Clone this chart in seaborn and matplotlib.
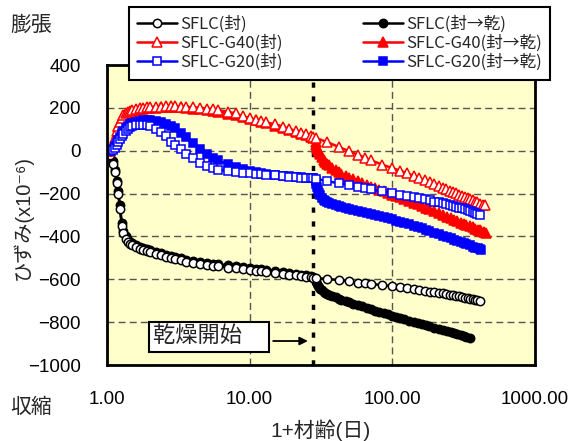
import numpy as np
import pandas as pd
import matplotlib
matplotlib.use('Agg')
import matplotlib.pyplot as plt
import seaborn as sns

# ages (days) -- x axis is 1 + age
age_early = [0, 0.05, 0.1, 0.14, 0.17, 0.2, 0.23, 0.27, 0.3, 0.35, 0.4, 0.45, 0.5,
             0.6, 0.7, 0.8, 0.9, 1.0, 1.2, 1.4, 1.6, 1.8, 2.0, 2.3, 2.6, 3.0, 3.5,
             4, 4.5, 5, 6, 7, 8, 9, 10, 11, 12, 14, 16, 18, 20, 22, 24, 26, 27]
age_sealed = [28, 34, 41, 49, 56, 63, 70, 84, 98, 112, 126, 140, 154, 168, 182,
              196, 210, 224, 238, 252, 266, 280, 294, 308, 322, 336, 350, 364,
              378, 392, 412, 430, 446]
age_dried = [28, 28.3, 28.7, 29, 29.5, 30, 31, 32, 33, 34, 35, 37, 39, 41, 43, 46,
             49, 52, 56, 60, 65, 70, 75, 80, 86, 92, 98, 105, 112, 120, 130, 140,
             150, 160, 170, 180, 195, 210, 225, 240, 255, 270, 285, 300, 315, 330,
             349, 365, 380, 395, 410, 420, 435, 456]

# strain (x10^-6), sealed curing period
sflc_seal_early = [0, -20, -60, -100, -150, -200, -270, -350, -385, -410, -425, -435, -442,
                   -450, -457, -463, -468, -473, -481, -488, -495, -501, -506, -512, -518,
                   -524, -529, -533, -537, -540, -545, -549, -553, -557, -560, -563, -566,
                   -571, -575, -579, -582, -585, -588, -590, -592]
sflc_dry_early = [0, -15, -50, -90, -140, -190, -255, -335, -375, -400, -415, -425, -432,
                  -440, -447, -453, -458, -463, -471, -478, -485, -491, -496, -502, -508,
                  -514, -519, -523, -527, -530, -535, -540, -544, -548, -551, -554, -557,
                  -562, -566, -570, -574, -578, -582, -586, -590]
g40_seal_early = [0, 2, 25, 60, 90, 115, 135, 155, 165, 175, 182, 187, 190, 195, 198, 200,
                  202, 203, 205, 206, 207, 207, 207, 206, 205, 203, 200, 197, 194, 190, 182,
                  174, 160, 152, 145, 138, 132, 124, 113, 102, 92, 84, 76, 69, 65]
g40_dry_early = [0, 0, 20, 55, 85, 110, 130, 150, 160, 170, 177, 182, 186, 190, 193, 196,
                 198, 199, 201, 202, 203, 203, 203, 202, 200, 197, 193, 189, 185, 181, 173,
                 165, 157, 149, 142, 135, 128, 117, 107, 97, 88, 80, 72, 64, 58]
g20_seal_early = [0, 0, 5, 15, 28, 42, 55, 70, 80, 93, 103, 110, 114, 118, 120, 120, 118,
                  114, 103, 88, 68, 42, 27, 8, -15, -35, -57, -73, -82, -88, -95, -99, -102,
                  -105, -107, -109, -111, -115, -118, -121, -123, -125, -127, -128, -129]
g20_dry_early = [0, 0, 8, 20, 35, 50, 65, 82, 93, 106, 116, 123, 128, 135, 139, 142, 143,
                 143, 140, 135, 127, 117, 104, 85, 62, 35, 8, -15, -32, -45, -63, -76, -86,
                 -94, -100, -104, -107, -112, -116, -119, -121, -123, -125, -126, -127]

# after day 28: sealed specimens
sflc_seal_late = [-595, -598, -604, -610, -615, -619, -622, -627, -632, -637, -642, -646,
                  -650, -654, -657, -660, -663, -666, -669, -672, -675, -677, -680, -683,
                  -685, -688, -690, -693, -695, -697, -701]
g40_seal_late = [60, 40, 18, -3, -18, -33, -45, -65, -80, -93, -105, -117, -128, -138,
                 -147, -156, -164, -172, -179, -186, -193, -199, -205, -211, -217, -222,
                 -227, -232, -237, -241, -247, -251, -255]
g20_seal_late = [-130, -142, -152, -160, -167, -174, -180, -190, -198, -205, -211, -217,
                 -222, -227, -232, -237, -241, -245, -249, -253, -257, -261, -265, -269,
                 -273, -277, -281, -285, -289, -293, -298]

# after day 28: drying specimens
sflc_dry_late = [-600, -612, -622, -630, -638, -645, -652, -658, -663, -667, -671, -678,
                 -684, -690, -695, -701, -707, -713, -720, -726, -733, -740, -746, -752,
                 -758, -764, -770, -776, -781, -787, -793, -799, -805, -810, -815, -819,
                 -825, -831, -837, -842, -847, -852, -857, -861, -865, -869, -874]
g40_dry_late = [40, 28, 15, 5, -5, -15, -30, -42, -52, -60, -68, -80, -90, -100, -108,
                -118, -127, -134, -142, -150, -159, -167, -174, -181, -189, -197, -205,
                -211, -218, -225, -234, -242, -250, -257, -265, -272, -283, -292, -300,
                -307, -314, -321, -328, -335, -341, -347, -353, -358, -363, -368, -372,
                -375, -379, -384]
g20_dry_late = [-140, -155, -170, -185, -198, -208, -220, -228, -234, -239, -243, -250,
                -255, -260, -264, -268, -272, -276, -281, -286, -292, -297, -301, -305,
                -310, -315, -320, -326, -331, -337, -343, -350, -356, -362, -368, -374,
                -382, -389, -396, -403, -409, -415, -421, -426, -431, -436, -442, -447,
                -452, -456, -460, -463]

drying_start = 28
x_ticks = [1, 10, 100, 1000]
x_ticklabels = ['1.00', '10.00', '100.00', '1000.00']
y_ticks = [-1000, -800, -600, -400, -200, 0, 200, 400]


def make_df(early, late_ages, late_vals):
    ages = age_early + late_ages[:len(late_vals)]
    return pd.DataFrame({'x': np.array(ages) + 1, 'y': early + late_vals})


# (label, data, color, marker, markersize, facecolor) in drawing order
series = [
    ('SFLC(封→乾)', make_df(sflc_dry_early, age_dried, sflc_dry_late), 'black', 'o', 6.0, 'black'),
    ('SFLC(封)', make_df(sflc_seal_early, age_sealed, sflc_seal_late), 'black', 'o', 6.0, 'white'),
    ('SFLC-G40(封→乾)', make_df(g40_dry_early, age_dried, g40_dry_late), '#FF0000', '^', 7.5, '#FF0000'),
    ('SFLC-G40(封)', make_df(g40_seal_early, age_sealed, g40_seal_late), '#FF0000', '^', 7.5, 'white'),
    ('SFLC-G20(封→乾)', make_df(g20_dry_early, age_dried, g20_dry_late), '#0000FF', 's', 6.0, '#0000FF'),
    ('SFLC-G20(封)', make_df(g20_seal_early, age_sealed, g20_seal_late), '#0000FF', 's', 6.0, 'white'),
]

sns.set_style('white')
plt.rcParams['font.family'] = ['Liberation Sans', 'Noto Sans CJK JP', 'DejaVu Sans']

fig = plt.figure(figsize=(5.68, 4.41), dpi=100)
ax = fig.add_axes([107 / 568, 76 / 441, 428 / 568, 300 / 441])
ax.set_facecolor('#FFFFCC')

for label, df, color, marker, ms, fc in series:
    sns.lineplot(data=df, x='x', y='y', ax=ax, color=color, marker=marker,
                 markersize=ms, markerfacecolor=fc, markeredgecolor=color,
                 markeredgewidth=1.1, linewidth=1.8, label=label,
                 sort=False, estimator=None, errorbar=None)

if ax.get_legend() is not None:
    ax.get_legend().remove()

ax.set_xscale('log')
ax.set_xlim(1, 1000)
ax.set_ylim(-1000, 400)
ax.set_xticks(x_ticks)
ax.set_xticklabels(x_ticklabels)
ax.set_yticks(y_ticks)
ax.set_yticklabels([str(v).replace('-', '\u2212') for v in y_ticks])

ax.grid(True, which='major', color='#555555', linestyle=(0, (5, 3)), linewidth=1)
ax.tick_params(axis='both', which='both', direction='in', pad=19,
               labelsize=13.5, colors='black', width=1.5)
ax.tick_params(axis='both', which='major', length=7)
ax.tick_params(axis='x', which='minor', length=5)
for sp in ax.spines.values():
    sp.set_color('black')
    sp.set_linewidth(2)

# start of drying
ax.axvline(drying_start, color='black', lw=2.5, linestyle=(0, (1.5, 2.5)), zorder=1.5)
ax.text(2.10, -869, '乾燥開始\u3000', fontsize=16, ha='left', va='center',
        bbox=dict(boxstyle='square,pad=0.2', fc='white', ec='black', lw=1.5))
ax.annotate('', xy=(25.6, -888), xytext=(14.6, -888),
            arrowprops=dict(arrowstyle='-|>', color='black', lw=1.3,
                            mutation_scale=12, shrinkA=0, shrinkB=0))

ax.set_xlabel('1+材齢(日)', fontsize=15)
ax.xaxis.set_label_coords(0.5, -0.183)
ax.set_ylabel('ひずみ(x10⁻⁶)', fontsize=14.5)
ax.yaxis.set_label_coords(-0.173, 0.493)

fig.text(31 / 568, 1 - 25 / 441, '膨張', fontsize=15, ha='center', va='center')
fig.text(31 / 568, 1 - 407 / 441, '収縮', fontsize=15, ha='center', va='center')

handles, labels = ax.get_legend_handles_labels()
lookup = dict(zip(labels, handles))
order = ['SFLC(封)', 'SFLC-G40(封)', 'SFLC-G20(封)',
         'SFLC(封→乾)', 'SFLC-G40(封→乾)', 'SFLC-G20(封→乾)']
leg = fig.legend([lookup[k] for k in order], order, loc='upper left',
                 bbox_to_anchor=(129 / 568, 1 - 74 / 441, 421 / 568, 67 / 441),
                 mode='expand', ncol=2,
                 prop={'family': ['Noto Sans CJK JP'], 'size': 12},
                 frameon=True, fancybox=False, edgecolor='black', framealpha=1,
                 handlelength=2.4, handletextpad=0.2, columnspacing=2.0,
                 labelspacing=0.12, borderpad=0.5, borderaxespad=0)
leg.get_frame().set_linewidth(1.5)

fig.savefig('out.png', dpi=100)
